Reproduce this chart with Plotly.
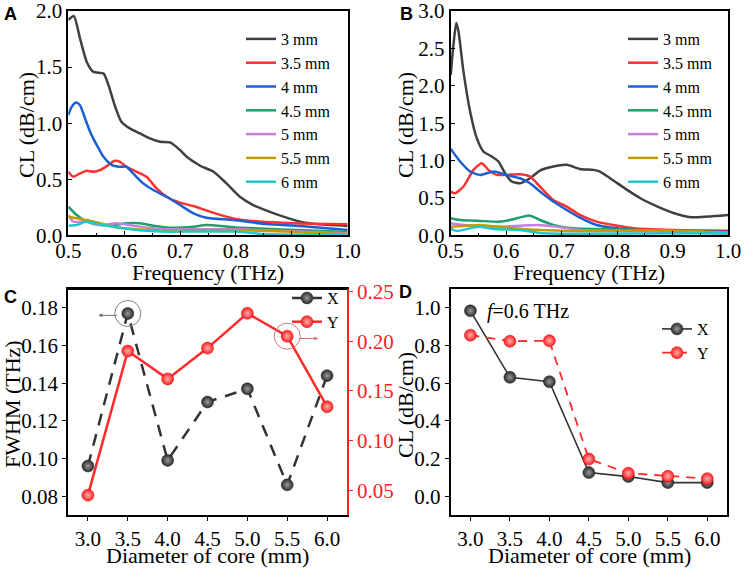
import plotly.graph_objects as go

# panel A: x-polarised CL vs frequency
a3_x = [0.500, 0.510, 0.521, 0.533, 0.545, 0.563, 0.572, 0.583, 0.595, 0.610, 0.628, 0.646, 0.664,
        0.682, 0.700, 0.712, 0.736, 0.760, 0.783, 0.807, 0.831, 0.855, 0.885, 0.915, 0.945, 1.000]
a3_y = [1.92, 1.955, 1.754, 1.546, 1.457, 1.442, 1.338, 1.160, 1.012, 0.953, 0.908, 0.864, 0.834,
        0.828, 0.76, 0.70, 0.62, 0.567, 0.463, 0.344, 0.27, 0.22, 0.166, 0.122, 0.10, 0.083]
a35_x = [0.5, 0.509, 0.521, 0.533, 0.545, 0.557, 0.569, 0.583, 0.592, 0.604, 0.622, 0.640, 0.658,
         0.676, 0.700, 0.724, 0.753, 0.795, 0.843, 0.903, 1.0]
a35_y = [0.567, 0.522, 0.552, 0.576, 0.567, 0.582, 0.617, 0.665, 0.656, 0.611, 0.567, 0.522, 0.418,
         0.344, 0.291, 0.261, 0.211, 0.151, 0.122, 0.107, 0.098]
a4_x = [0.5, 0.506, 0.514, 0.521, 0.530, 0.539, 0.551, 0.563, 0.578, 0.592, 0.604, 0.616, 0.634,
        0.652, 0.676, 0.700, 0.724, 0.747, 0.795, 0.855, 0.915, 1.0]
a4_y = [1.071, 1.145, 1.184, 1.160, 1.042, 0.923, 0.804, 0.700, 0.626, 0.611, 0.611, 0.552, 0.463,
        0.404, 0.344, 0.270, 0.196, 0.157, 0.136, 0.10, 0.082, 0.047]
a45_x = [0.5, 0.515, 0.533, 0.557, 0.581, 0.604, 0.628, 0.652, 0.682, 0.724, 0.747, 0.8, 0.9, 1.0]
a45_y = [0.255, 0.181, 0.122, 0.092, 0.092, 0.107, 0.107, 0.086, 0.068, 0.077, 0.092, 0.07, 0.05, 0.03]
a5_x = [0.5, 0.509, 0.533, 0.557, 0.587, 0.616, 0.664, 0.8, 0.915, 1.0]
a5_y = [0.181, 0.122, 0.122, 0.092, 0.107, 0.086, 0.056, 0.053, 0.033, 0.018]
a55_x = [0.5, 0.533, 0.557, 0.581, 0.616, 0.664, 0.8, 0.89, 0.955, 1.0]
a55_y = [0.166, 0.136, 0.107, 0.077, 0.056, 0.045, 0.047, 0.033, 0.018, 0.012]
a6_x = [0.5, 0.515, 0.533, 0.557, 0.592, 0.628, 0.664, 0.8, 0.85, 1.0]
a6_y = [0.086, 0.092, 0.122, 0.098, 0.068, 0.045, 0.033, 0.033, 0.012, 0.003]

# panel B: y-polarised CL vs frequency
b3_x = [0.5, 0.505, 0.510, 0.514, 0.523, 0.535, 0.547, 0.559, 0.574, 0.586, 0.598, 0.610, 0.625, 0.643,
        0.661, 0.685, 0.709, 0.733, 0.757, 0.769, 0.818, 0.842, 0.873, 0.903, 0.933, 0.963, 1.0]
b3_y = [2.147, 2.549, 2.839, 2.728, 2.192, 1.656, 1.299, 1.121, 1.054, 0.987, 0.830, 0.719, 0.696, 0.763,
        0.866, 0.920, 0.942, 0.888, 0.875, 0.853, 0.607, 0.496, 0.384, 0.295, 0.241, 0.25, 0.272]
b35_x = [0.5, 0.508, 0.523, 0.541, 0.556, 0.568, 0.583, 0.601, 0.625, 0.643, 0.661, 0.685, 0.709,
         0.733, 0.763, 0.830, 0.903, 1.0]
b35_y = [0.585, 0.562, 0.652, 0.875, 0.964, 0.875, 0.808, 0.808, 0.817, 0.786, 0.652, 0.473, 0.384,
         0.272, 0.183, 0.094, 0.071, 0.0625]
b4_x = [0.5, 0.517, 0.535, 0.553, 0.577, 0.601, 0.625, 0.643, 0.661, 0.685, 0.709, 0.733, 0.763,
        0.830, 0.903, 1.0]
b4_y = [1.156, 0.987, 0.853, 0.808, 0.853, 0.808, 0.763, 0.696, 0.585, 0.451, 0.339, 0.237, 0.138,
        0.071, 0.049, 0.049]
b45_x = [0.5, 0.517, 0.553, 0.589, 0.607, 0.631, 0.643, 0.661, 0.685, 0.721, 0.842, 0.903, 1.0]
b45_y = [0.228, 0.205, 0.192, 0.183, 0.205, 0.25, 0.263, 0.205, 0.138, 0.094, 0.071, 0.049, 0.036]
b5_x = [0.5, 0.511, 0.541, 0.589, 0.625, 0.655, 0.691, 0.733, 0.903, 1.0]
b5_y = [0.161, 0.147, 0.129, 0.116, 0.129, 0.138, 0.116, 0.071, 0.049, 0.018]
b55_x = [0.5, 0.529, 0.553, 0.601, 0.661, 0.721, 0.903, 1.0]
b55_y = [0.116, 0.129, 0.138, 0.103, 0.071, 0.058, 0.062, 0.036]
b6_x = [0.5, 0.511, 0.541, 0.553, 0.577, 0.625, 0.661, 0.7, 1.0]
b6_y = [0.085, 0.058, 0.103, 0.116, 0.085, 0.071, 0.03, 0.02, 0.027]

names = ["3 mm", "3.5 mm", "4 mm", "4.5 mm", "5 mm", "5.5 mm", "6 mm"]
colors = ["#404040", "#ff3030", "#1b60d0", "#1f9f6c", "#c77fe0", "#c99a00", "#1fc8c8"]

# panels C and D
diam = [3.0, 3.5, 4.0, 4.5, 5.0, 5.5, 6.0]
fwhm_x = [0.096, 0.177, 0.099, 0.130, 0.137, 0.086, 0.144]
fwhm_y = [0.045, 0.190, 0.162, 0.193, 0.228, 0.205, 0.134]
cl_x = [0.984, 0.631, 0.608, 0.125, 0.104, 0.072, 0.072]
cl_y = [0.855, 0.823, 0.825, 0.197, 0.122, 0.106, 0.093]

W, H = 747, 568
serif = "Liberation Serif"

def px_x(a, b):
    return [a / W, b / W]

def px_y(top, bottom):
    return [1 - bottom / H, 1 - top / H]

fig = go.Figure()

a_sets = [(a3_x, a3_y), (a35_x, a35_y), (a4_x, a4_y), (a45_x, a45_y), (a5_x, a5_y), (a55_x, a55_y), (a6_x, a6_y)]
b_sets = [(b3_x, b3_y), (b35_x, b35_y), (b4_x, b4_y), (b45_x, b45_y), (b5_x, b5_y), (b55_x, b55_y), (b6_x, b6_y)]

for (xs, ys), n, c in zip(a_sets, names, colors):
    fig.add_trace(go.Scatter(x=xs, y=ys, name=n, mode="lines", xaxis="x", yaxis="y",
                             line=dict(color=c, width=2.5, shape="spline", smoothing=0.6), legend="legend"))
for (xs, ys), n, c in zip(b_sets, names, colors):
    fig.add_trace(go.Scatter(x=xs, y=ys, name=n, mode="lines", xaxis="x2", yaxis="y2",
                             line=dict(color=c, width=2.5, shape="spline", smoothing=0.6), legend="legend2"))

ball_k = dict(size=12, color="#2a2a2a", gradient=dict(type="radial", color="#9a9a9a"),
              line=dict(width=0.5, color="#222"))
ball_r = dict(size=12, color="#ff2020", gradient=dict(type="radial", color="#ffb0b0"),
              line=dict(width=0.5, color="#e00000"))

fig.add_trace(go.Scatter(x=diam, y=fwhm_x, name="X", mode="lines+markers", xaxis="x3", yaxis="y3",
                         line=dict(color="#333333", width=2.5, dash="12px,9px"), marker=ball_k, legend="legend3"))
fig.add_trace(go.Scatter(x=diam, y=fwhm_y, name="Y", mode="lines+markers", xaxis="x3", yaxis="y5",
                         line=dict(color="#ff2a2a", width=2.5), marker=ball_r, legend="legend3"))

fig.add_trace(go.Scatter(x=diam, y=cl_x, name="X", mode="lines+markers", xaxis="x4", yaxis="y4",
                         line=dict(color="#333333", width=1.6), marker=ball_k, legend="legend4"))
fig.add_trace(go.Scatter(x=diam, y=cl_y, name="Y", mode="lines+markers", xaxis="x4", yaxis="y4",
                         line=dict(color="#ff2a2a", width=1.8, dash="9px,7px"), marker=ball_r, legend="legend4"))

tick_font = dict(family=serif, size=21, color="black")
title_font = dict(family=serif, size=22, color="black")

def ax(domain, rng, dtick, fmt, anchor, ticks="inside", minor=True, **kw):
    d = dict(domain=domain, range=rng, dtick=dtick, tick0=0, tickformat=fmt, anchor=anchor,
             showline=True, linecolor="black", linewidth=1.8, mirror=True, ticks=ticks,
             ticklen=4, tickwidth=1.3, tickcolor="black", showgrid=False, zeroline=False,
             tickfont=tick_font, automargin=False, ticklabeloverflow="allow")
    if minor:
        d["minor"] = dict(ticks=ticks, ticklen=2.5, tickwidth=1, tickcolor="black", nticks=2)
    d.update(kw)
    return d

dom_ax = px_x(68.3, 347.7)
dom_bx = px_x(450.7, 728)
dom_top = px_y(11, 235.3)
dom_cx = px_x(68, 347)
dom_dx = px_x(450.7, 727)
dom_bot = px_y(289, 515)

legend_base = dict(bgcolor="rgba(0,0,0,0)", borderwidth=0, font=dict(family=serif, size=16, color="black"),
                   xanchor="left", yanchor="top", tracegroupgap=0, itemwidth=30)

fig.update_layout(
    width=W, height=H, margin=dict(l=0, r=0, t=0, b=0),
    paper_bgcolor="white", plot_bgcolor="white",
    xaxis=ax(dom_ax, [0.5, 1.0], 0.1, ".1f", "y", ticklabelstandoff=-4),
    yaxis=ax(dom_top, [0, 2.0], 0.5, ".1f", "x"),
    xaxis2=ax(dom_bx, [0.5, 1.0], 0.1, ".1f", "y2", ticklabelstandoff=-4),
    yaxis2=ax(dom_top, [0, 3.0], 0.5, ".1f", "x2"),
    xaxis3=ax(dom_cx, [2.75, 6.25], 0.5, ".1f", "y3", ticks="outside", minor=False, ticklabelstandoff=0),
    yaxis3=ax(dom_bot, [0.07, 0.19], 0.02, ".2f", "x3", ticks="outside", minor=False,
              mirror=False, tick0=0.08),
    yaxis5=ax(dom_bot, [0.025, 0.2525], 0.05, ".2f", "x3", ticks="outside", minor=False, mirror=False,
              overlaying="y3", side="right", linecolor="#ff2020", tickcolor="#ff2020",
              tickfont=dict(family=serif, size=21, color="#ff2020"), tick0=0.05),
    xaxis4=ax(dom_dx, [2.75, 6.25], 0.5, ".1f", "y4", ticks="outside", minor=False, ticklabelstandoff=0),
    yaxis4=ax(dom_bot, [-0.1, 1.1], 0.2, ".1f", "x4", ticks="outside", minor=False),
    legend=dict(legend_base, x=241 / W, y=1 - 22 / H),
    legend2=dict(legend_base, x=623 / W, y=1 - 22 / H),
    legend3=dict(legend_base, x=287 / W, y=1 - 281 / H),
    legend4=dict(legend_base, x=657 / W, y=1 - 312 / H),
)

# axis titles
x_titles = [("Frequency (THz)", 208, 272), ("Frequency (THz)", 589, 272),
            ("Diameter of core (mm)", 207, 555), ("Diameter of core (mm)", 589, 555)]
for txt, x, y in x_titles:
    fig.add_annotation(x=x / W, y=1 - y / H, xref="paper", yref="paper", xanchor="center", yanchor="middle",
                       text=txt, showarrow=False, font=title_font)
y_titles = [("CL (dB/cm)", 27, 125), ("CL (dB/cm)", 406, 125), ("FWHM (THz)", 12, 404),
            ("CL (dB/cm)", 405, 405)]
for txt, x, y in y_titles:
    fig.add_annotation(x=x / W, y=1 - y / H, xref="paper", yref="paper", xanchor="center", yanchor="middle",
                       text=txt, showarrow=False, font=title_font, textangle=-90)

# top spine of panel C (right axis is red, so no mirror there)
fig.add_shape(type="line", xref="x3 domain", yref="y3 domain", x0=0, x1=1, y0=1, y1=1,
              line=dict(color="black", width=1.8))

# circles and arrows in panel C
fig.add_shape(type="circle", xref="x3", yref="y3", xsizemode="pixel", ysizemode="pixel",
              xanchor=3.5, yanchor=0.177, x0=-13, x1=13, y0=-13, y1=13,
              line=dict(color="#808080", width=1))
fig.add_shape(type="circle", xref="x3", yref="y5", xsizemode="pixel", ysizemode="pixel",
              xanchor=5.5, yanchor=0.205, x0=-13, x1=13, y0=-13, y1=13,
              line=dict(color="#c08080", width=1))
fig.add_annotation(x=3.13, y=0.176, xref="x3", yref="y3", ax=20, ay=0, text="", showarrow=True,
                   arrowhead=2, arrowsize=0.8, arrowwidth=1, arrowcolor="#707070")
fig.add_annotation(x=5.89, y=0.2027, xref="x3", yref="y5", ax=-20, ay=0, text="", showarrow=True,
                   arrowhead=2, arrowsize=0.8, arrowwidth=1, arrowcolor="#d07070")

fig.add_annotation(x=485 / W, y=1 - 311 / H, xref="paper", yref="paper", xanchor="left", yanchor="middle",
                   text="<i>f</i>=0.6 THz", showarrow=False, font=dict(family=serif, size=20, color="black"))

# panel letters
for letter, x, y in [("A", 2, 14), ("B", 398, 14), ("C", 2, 297), ("D", 397, 292)]:
    fig.add_annotation(x=x / W, y=1 - y / H, xref="paper", yref="paper", xanchor="left", yanchor="middle",
                       text="<b>%s</b>" % letter, showarrow=False,
                       font=dict(family="Liberation Sans", size=18, color="black"))

# the page body has a default 8px margin; drop it so the figure sits at the window corner
fig.write_html("out.html", config={"displayModeBar": False},
               post_script="document.body.style.margin='0';")
